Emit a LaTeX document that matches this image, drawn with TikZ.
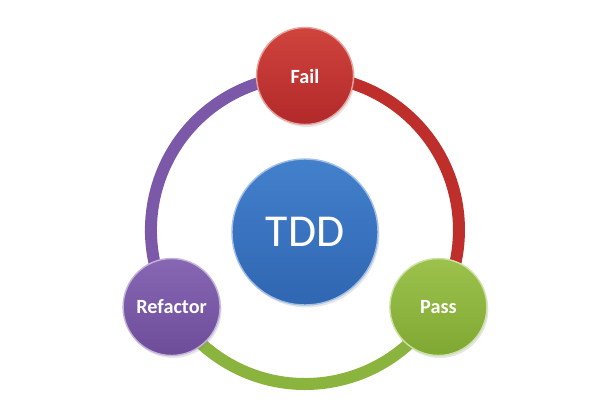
\documentclass[tikz,border=0pt]{standalone}
\usepackage{fontspec}
\setmainfont{Carlito}
\usetikzlibrary{shadows}
\definecolor{ringred}{HTML}{BE2E2A}
\definecolor{ringgreen}{HTML}{8AB43E}
\definecolor{ringpurple}{HTML}{7B59A8}
\definecolor{redtop}{HTML}{D0443D}
\definecolor{redbot}{HTML}{B2292A}
\definecolor{greentop}{HTML}{9CC24C}
\definecolor{greenbot}{HTML}{7FA832}
\definecolor{purtop}{HTML}{8766B4}
\definecolor{purbot}{HTML}{6D4C9A}
\definecolor{bluetop}{HTML}{4380CC}
\definecolor{bluebot}{HTML}{3066B2}
\tikzset{
  ball/.style={circle, minimum size=1.94cm, inner sep=0pt, text=white,
    font=\bfseries\fontsize{11.5}{13}\selectfont, line width=0.8pt,
    drop shadow={opacity=0.2, shadow xshift=0.03cm, shadow yshift=-0.05cm}},
  ring/.style={line width=0.24cm}
}
\begin{document}
\begin{tikzpicture}[x=0.02cm,y=0.02cm]
\useasboundingbox[fill=white] (0,0) rectangle (600,420);
\coordinate (c) at (305,190);
\coordinate (pfail) at (305,344);
\coordinate (ppass) at (438.4,113);
\coordinate (pref) at (171.6,113);
\draw[ring, ringred] (pfail) arc (90:-30:3.08cm);
\draw[ring, ringgreen] (ppass) arc (-30:-150:3.08cm);
\draw[ring, ringpurple] (pref) arc (210:90:3.08cm);
\node[ball, minimum size=2.92cm, top color=bluetop, bottom color=bluebot, draw=bluetop!50!white,
  font=\fontsize{26}{30}\selectfont] (tdd) at (305,188) {TDD};
\node[ball, top color=redtop, bottom color=redbot, draw=redtop!50!white] (fail) at (pfail) {Fail};
\node[ball, top color=greentop, bottom color=greenbot, draw=greentop!50!white] (pass) at (ppass) {Pass};
\node[ball, top color=purtop, bottom color=purbot, draw=purtop!50!white] (refactor) at (pref) {Refactor};
\end{tikzpicture}
\end{document}
